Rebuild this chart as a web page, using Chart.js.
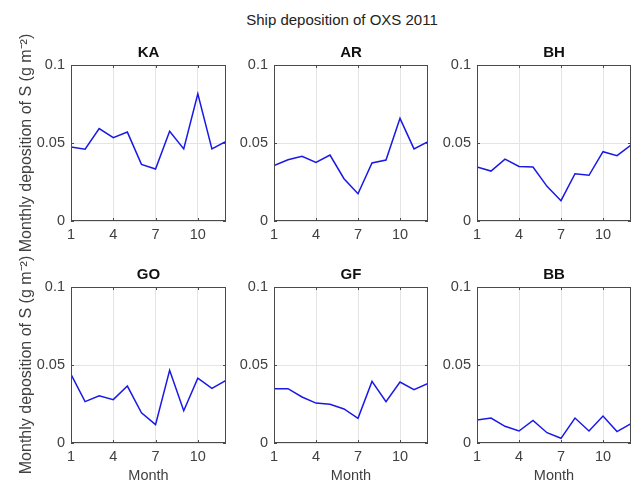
<!DOCTYPE html>
<html>
<head>
<meta charset="utf-8">
<script src="https://cdn.jsdelivr.net/npm/chart.js@4.4.0/dist/chart.umd.min.js"></script>
<style>
body{margin:0;background:#fff;width:637px;height:485px;overflow:hidden;position:relative;font-family:"Liberation Sans",Arial,sans-serif}
#title{position:absolute;left:0;width:684px;top:11px;text-align:center;font-size:15px;color:#222}
canvas{position:absolute}
</style>
</head>
<body>
<div id="title">Ship deposition of OXS 2011</div>
<canvas id="c0"></canvas>
<canvas id="c1"></canvas>
<canvas id="c2"></canvas>
<canvas id="c3"></canvas>
<canvas id="c4"></canvas>
<canvas id="c5"></canvas>
<script>
// data (g m-2 per month)
var months = [1,2,3,4,5,6,7,8,9,10,11,12];
var xTicks = [1,4,7,10];
var yTicks = [0,0.05,0.1];
var stations = ['KA','AR','BH','GO','GF','BB'];
var ka = [0.0474,0.0460,0.0592,0.0534,0.0570,0.0363,0.0333,0.0575,0.0462,0.0816,0.0462,0.0510];
var ar = [0.0355,0.0393,0.0415,0.0376,0.0423,0.0271,0.0175,0.0372,0.0391,0.0658,0.0462,0.0509];
var bh = [0.0346,0.0320,0.0397,0.0350,0.0346,0.0222,0.0130,0.0303,0.0293,0.0444,0.0419,0.0487];
var go = [0.0440,0.0265,0.0303,0.0278,0.0365,0.0194,0.0118,0.0466,0.0207,0.0415,0.0350,0.0402];
var gf = [0.0348,0.0348,0.0295,0.0256,0.0248,0.0218,0.0158,0.0395,0.0265,0.0391,0.0342,0.0382];
var bb = [0.0147,0.0160,0.0107,0.0077,0.0145,0.0066,0.0030,0.0160,0.0077,0.0173,0.0073,0.0124];
var series = [ka, ar, bh, go, gf, bb];

// panel geometry
var plotLeft = [71, 274, 477];
var plotWidth = [155, 154, 154];
var plotTop = [65, 287];
var plotHeight = 156;
var extraTop = 40; // room so the long y label is not cut by the canvas edge

Chart.defaults.font.family = "'Liberation Sans', Arial, sans-serif";
Chart.defaults.color = '#404040';

// box round the axes with inward ticks, like matlab
var boxPlugin = {
  id: 'box',
  afterDatasetsDraw: function(chart){
    var a = chart.chartArea, ctx = chart.ctx;
    var xs = chart.scales.x, ys = chart.scales.y;
    ctx.save();
    ctx.strokeStyle = '#4a4a4a';
    ctx.lineWidth = 1;
    ctx.strokeRect(a.left + 0.5, a.top + 0.5, a.right - a.left - 1, a.bottom - a.top - 1);
    ctx.beginPath();
    xTicks.forEach(function(t){
      var px = Math.round(xs.getPixelForValue(t)) + 0.5;
      ctx.moveTo(px, a.bottom); ctx.lineTo(px, a.bottom - 3);
      ctx.moveTo(px, a.top); ctx.lineTo(px, a.top + 3);
    });
    yTicks.forEach(function(t){
      var py = Math.round(ys.getPixelForValue(t)) + 0.5;
      ctx.moveTo(a.left, py); ctx.lineTo(a.left + 3, py);
      ctx.moveTo(a.right, py); ctx.lineTo(a.right - 3, py);
    });
    ctx.stroke();
    ctx.restore();
  }
};

for (var i = 0; i < 6; i++){
  var row = Math.floor(i / 3), col = i % 3;
  var cv = document.getElementById('c' + i);
  cv.width = 70 + plotWidth[col] + 6;
  cv.height = extraTop + 30 + plotHeight + 48;
  cv.style.left = (plotLeft[col] - 70) + 'px';
  cv.style.top = (plotTop[row] - 30 - extraTop) + 'px';

  var pts = [];
  for (var k = 0; k < months.length; k++){
    pts.push({x: months[k], y: series[i][k]});
  }

  new Chart(cv, {
    type: 'line',
    data: {
      datasets: [{
        data: pts,
        borderColor: 'rgb(25,25,230)',
        borderWidth: 1.5,
        pointRadius: 0,
        tension: 0,
        fill: false
      }]
    },
    options: {
      responsive: false,
      animation: false,
      devicePixelRatio: 1,
      events: [],
      layout: {padding: {left: 0, right: 6, top: extraTop, bottom: 0}},
      plugins: {
        legend: {display: false},
        tooltip: {enabled: false},
        title: {
          display: true,
          text: stations[i],
          fullSize: false,
          color: '#111',
          font: {size: 15, weight: 'bold', lineHeight: 1},
          padding: {top: 10, bottom: 5}
        }
      },
      scales: {
        x: {
          type: 'linear',
          min: 1,
          max: 12,
          afterBuildTicks: function(s){ s.ticks = xTicks.map(function(v){ return {value: v}; }); },
          afterFit: function(s){ s.height = 48; },
          ticks: {padding: 5, font: {size: 14.5}, maxRotation: 0, callback: function(v){ return String(v); }},
          grid: {color: '#e4e4e4', drawTicks: false},
          border: {display: false},
          title: {
            display: row == 1,
            text: 'Month',
            font: {size: 14.5},
            padding: {top: 0, bottom: 6}
          }
        },
        y: {
          min: 0,
          max: 0.1,
          afterBuildTicks: function(s){ s.ticks = yTicks.map(function(v){ return {value: v}; }); },
          afterFit: function(s){ s.width = 70; },
          ticks: {padding: 6, font: {size: 14.5}, callback: function(v){ return String(v); }},
          grid: {color: '#e4e4e4', drawTicks: false},
          border: {display: false},
          title: {
            display: col == 0,
            text: 'Monthly deposition of S (g m\u207B\u00B2)',
            font: {size: 16},
            padding: {top: 16, bottom: 0}
          }
        }
      }
    },
    plugins: [boxPlugin]
  });
}
</script>
</body>
</html>
